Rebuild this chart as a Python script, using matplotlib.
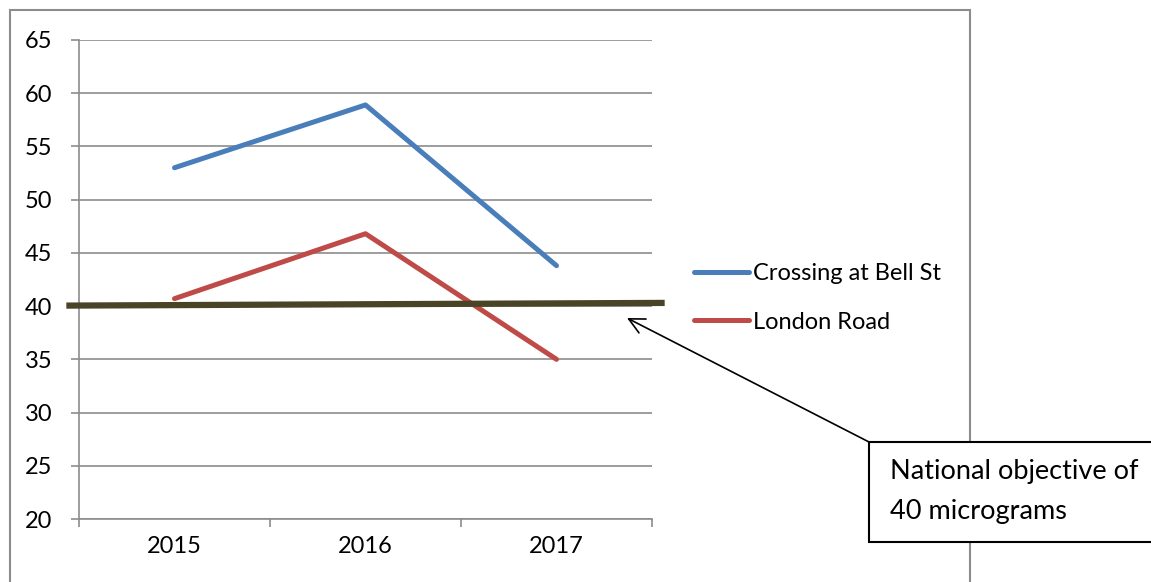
import matplotlib.pyplot as plt
from matplotlib.patches import Rectangle

plt.rcParams['font.family'] = ['Lato', 'DejaVu Sans']

years = ['2015', '2016', '2017']
bell_st = [53.0, 58.9, 43.8]
london_road = [40.7, 46.8, 35.0]
objective = 40

W, H = 1151, 582
fig = plt.figure(figsize=(W / 100, H / 100), dpi=100)

# chart border
fig.patches.append(Rectangle((10 / W, -0.05), 960 / W, 1 - 10 / H + 0.05,
                             transform=fig.transFigure, fill=False,
                             edgecolor='#8c8c8c', linewidth=1.5, zorder=0))

ax = fig.add_axes([79 / W, 1 - 519 / H, (652 - 79) / W, (519 - 40) / H])

x = range(len(years))
grid_c = '#8c8c8c'
fs = 17
ax.set_ylim(20, 65)
ax.set_yticks(range(20, 66, 5))
ax.set_xlim(-0.5, len(years) - 0.5)
ax.set_xticks([i - 0.5 for i in range(len(years) + 1)])
ax.set_xticklabels([])
ax.set_xticks(list(x), minor=True)
ax.set_xticklabels(years, minor=True)
ax.tick_params(axis='x', which='minor', length=0, pad=12, labelsize=fs)
ax.tick_params(axis='x', which='major', length=6, color=grid_c, width=1.2)
ax.tick_params(axis='y', length=6, color=grid_c, width=1.2, labelsize=fs, pad=13)
ax.grid(axis='y', color=grid_c, linewidth=1.2)
ax.set_axisbelow(True)
for s in ['top', 'right']:
    ax.spines[s].set_visible(False)
for s in ['left', 'bottom']:
    ax.spines[s].set_color(grid_c)
    ax.spines[s].set_linewidth(1.2)

l1, = ax.plot(x, bell_st, color='#4a7ebb', linewidth=3.6, solid_capstyle='round',
              label='Crossing at Bell St')
l2, = ax.plot(x, london_road, color='#be4b48', linewidth=3.6, solid_capstyle='round',
              label='London Road')

# objective line (hand drawn shape, slightly tilted)
ax.plot([-0.55, 2.55], [objective + 0.05, objective + 0.3], color='#4a4426',
        linewidth=4.5, clip_on=False, zorder=5)

fig.legend(handles=[l1, l2], loc='center left',
           bbox_to_anchor=(673 / W, 1 - 298 / H), frameon=False, fontsize=fs,
           handlelength=2.3, handletextpad=0.2, labelspacing=1.15)

# callout box
ax.annotate('', xy=(627 / W, 1 - 318 / H), xycoords='figure fraction',
            xytext=(869 / W, 1 - 442 / H), textcoords='figure fraction',
            arrowprops=dict(arrowstyle='->', color='black', lw=1.2,
                            mutation_scale=28, shrinkA=0, shrinkB=0))
fig.patches.append(Rectangle((869 / W, 1 - 542 / H), 300 / W, 100 / H,
                             transform=fig.transFigure, facecolor='white',
                             edgecolor='black', linewidth=1.5, zorder=3))
fig.text(890 / W, 1 - 472 / H, 'National objective of', fontsize=19.5,
         va='center', zorder=4)
fig.text(890 / W, 1 - 512 / H, '40 micrograms', fontsize=19.5,
         va='center', zorder=4)

fig.savefig('out.png', dpi=100)
